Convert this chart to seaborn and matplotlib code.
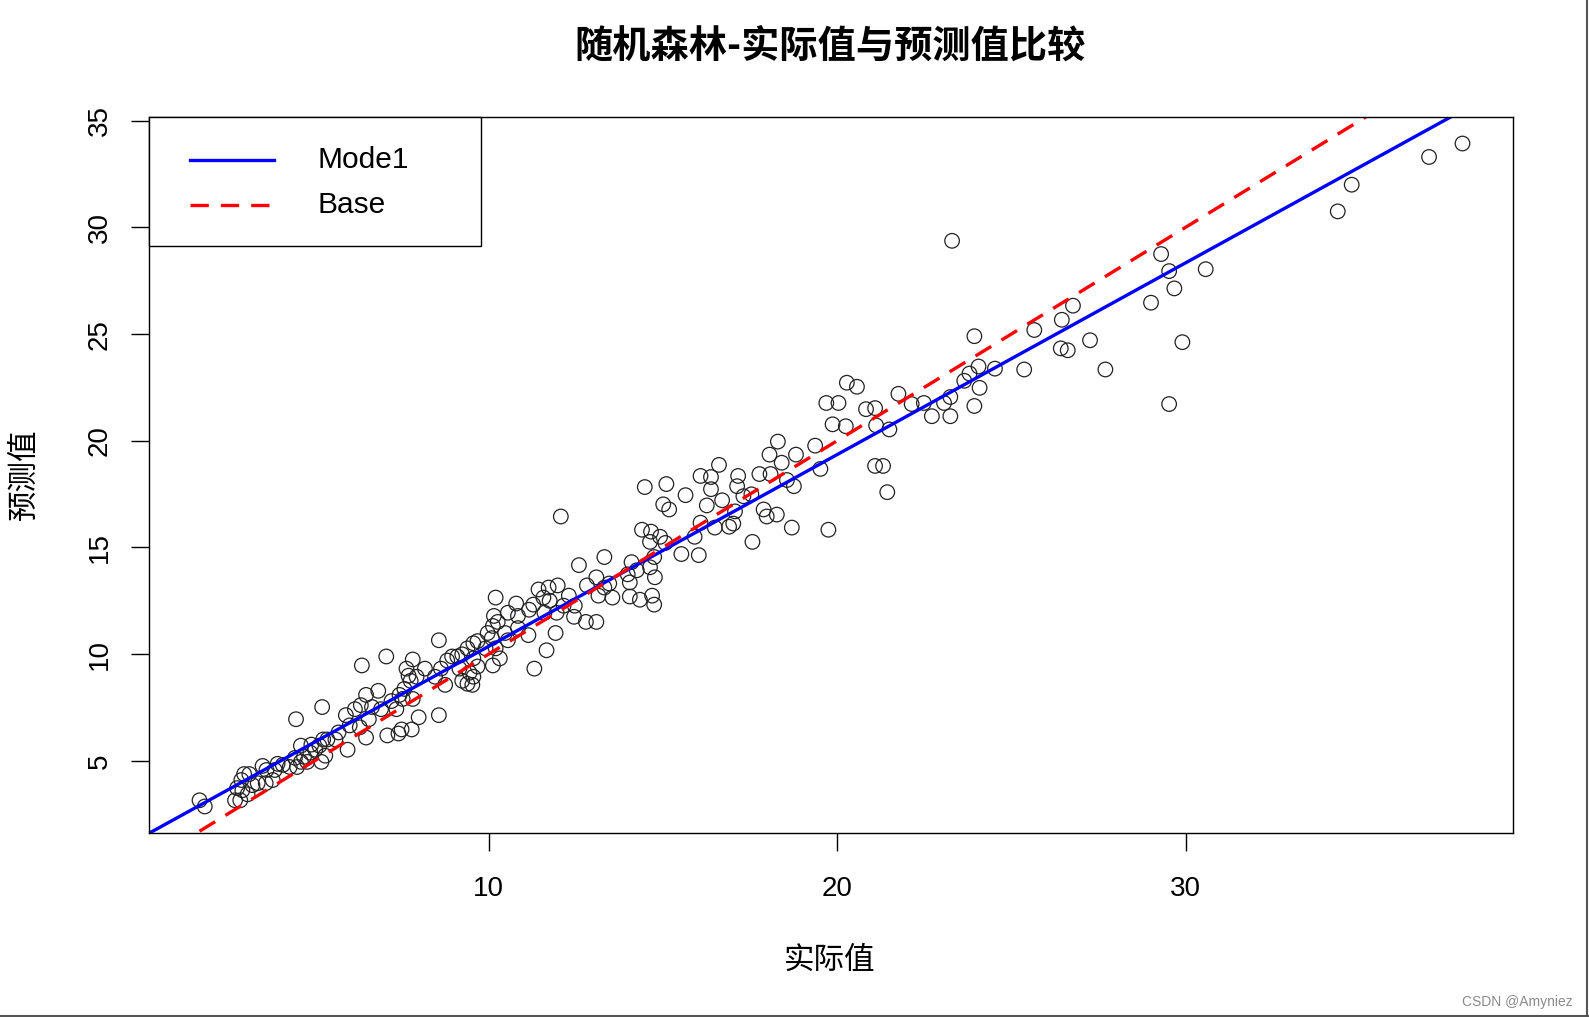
import seaborn as sns
import matplotlib.pyplot as plt
import numpy as np
import pandas as pd

# values (actual, predicted)
actual = [
    37.95, 36.99, 34.77, 34.37, 23.30, 29.30, 29.53, 29.68, 30.58, 29.01,
    29.91, 29.53, 26.77, 26.45, 25.66, 26.42, 26.62, 27.26, 27.70, 25.37,
    23.94, 24.53, 24.06, 23.80, 24.09, 23.94, 23.65, 23.25, 23.07, 23.25,
    22.72, 22.49, 22.14, 21.76, 21.09, 20.83, 21.12, 21.50, 20.28, 20.57,
    20.04, 19.69, 19.87, 20.25, 21.09, 21.32, 21.44, 19.75, 19.52, 19.37,
    18.82, 18.30, 18.76, 18.70, 18.27, 18.09, 18.06, 18.41, 18.56, 17.77,
    17.54, 17.89, 17.98, 17.57, 17.16, 17.13, 17.31, 16.61, 16.38, 16.08,
    16.38, 16.26, 16.70, 16.90, 17.02, 17.07, 16.08, 16.49, 15.91, 16.03,
    15.53, 15.65, 15.10, 15.01, 15.18, 14.92, 15.07, 14.48, 14.66, 14.40,
    14.63, 14.75, 14.63, 14.77, 14.69, 14.75, 14.10, 14.25, 13.99, 14.05,
    14.34, 14.05, 13.32, 13.09, 13.32, 13.46, 13.15, 13.55, 13.09, 12.79,
    12.59, 12.82, 12.07, 11.98, 12.30, 12.47, 12.15, 12.45, 11.95, 11.92,
    11.57, 11.43, 11.72, 11.75, 11.60, 11.66, 11.31, 11.28, 11.16, 11.14,
    10.84, 10.79, 10.84, 10.55, 10.47, 10.20, 10.15, 10.26, 10.12, 9.97,
    10.09, 9.68, 9.91, 10.20, 10.32, 10.12, 10.55, 9.56, 9.39, 9.24,
    9.10, 8.95, 8.81, 9.56, 9.68, 9.45, 9.56, 9.39, 9.53, 9.24,
    9.16, 8.57, 8.63, 8.46, 8.75, 8.57, 8.17, 7.93, 7.82, 7.64,
    7.70, 7.76, 7.58, 7.44, 7.53, 7.82, 7.99, 7.79, 7.35, 7.21,
    7.06, 7.50, 7.41, 7.09, 6.36, 6.83, 6.91, 6.65, 6.48, 6.33,
    6.16, 5.90, 6.01, 6.30, 6.48, 6.56, 5.95, 5.69, 5.60, 5.37,
    5.22, 5.25, 5.14, 5.02, 5.31, 5.20, 4.91, 4.88, 4.61, 4.70,
    4.79, 4.61, 4.47, 4.50, 4.29, 4.44, 4.09, 3.94, 3.86, 3.62,
    3.51, 3.80, 3.60, 3.37, 3.13, 2.98, 2.90, 2.78, 2.93, 2.87,
    2.72, 3.08, 3.22, 1.70, 1.85,
]
predicted = [
    33.93, 33.30, 32.00, 30.75, 29.37, 28.75, 27.95, 27.14, 28.04, 26.47,
    24.62, 21.72, 26.33, 25.67, 25.19, 24.33, 24.24, 24.71, 23.34, 23.34,
    24.90, 23.38, 23.48, 23.15, 22.48, 21.63, 22.81, 22.05, 21.77, 21.15,
    21.15, 21.77, 21.72, 22.20, 21.53, 21.48, 20.72, 20.53, 22.72, 22.53,
    21.77, 21.77, 20.77, 20.68, 18.82, 18.82, 17.59, 15.83, 18.68, 19.77,
    19.35, 19.96, 17.87, 15.93, 16.54, 18.44, 19.35, 18.97, 18.16, 18.44,
    17.49, 16.78, 16.45, 15.26, 18.35, 17.87, 17.40, 18.87, 18.30, 18.35,
    17.73, 16.97, 17.21, 15.97, 16.12, 16.69, 16.16, 15.93, 15.50, 14.64,
    14.69, 17.45, 17.97, 17.02, 16.78, 15.50, 15.21, 17.83, 15.74, 15.83,
    15.26, 14.55, 14.07, 13.60, 12.74, 12.32, 14.31, 13.93, 13.74, 13.36,
    12.55, 12.70, 14.55, 13.60, 13.12, 13.31, 12.74, 12.65, 11.51, 11.51,
    14.17, 13.22, 16.45, 13.22, 12.74, 12.27, 12.27, 11.75, 11.94, 10.99,
    12.65, 13.03, 13.12, 12.50, 11.94, 10.18, 9.32, 12.32, 12.08, 10.89,
    11.22, 12.37, 11.79, 11.94, 10.99, 12.65, 11.79, 11.51, 11.32, 10.99,
    10.75, 10.61, 10.27, 10.27, 9.80, 9.47, 10.65, 10.51, 10.27, 9.99,
    9.89, 9.89, 9.70, 9.80, 9.42, 9.13, 8.94, 8.61, 8.56, 8.75,
    9.32, 10.65, 9.32, 8.94, 8.56, 7.14, 9.32, 8.94, 9.75, 9.32,
    8.99, 8.75, 8.37, 8.09, 7.90, 7.90, 7.04, 6.47, 7.42, 7.80,
    9.89, 6.47, 6.28, 6.19, 9.47, 8.28, 7.42, 7.52, 8.09, 7.61,
    7.42, 7.14, 6.66, 6.57, 6.09, 6.95, 5.52, 6.33, 6.00, 6.00,
    7.52, 6.00, 5.71, 5.52, 5.24, 4.95, 5.76, 5.38, 5.71, 5.19,
    4.95, 4.95, 6.95, 4.71, 4.71, 5.14, 4.81, 4.86, 4.57, 4.57,
    4.76, 4.10, 3.95, 3.95, 4.38, 4.38, 4.10, 3.72, 3.62, 3.15,
    3.15, 3.43, 3.86, 3.15, 2.86,
]

# fitted line of the model
fit_intercept = 1.38
fit_slope = 0.8985

legend_labels = ['Mode1', 'Base']

df = pd.DataFrame({'actual': actual, 'predicted': predicted})

fig = plt.figure(figsize=(15.89, 10.17), dpi=100)
ax = fig.add_axes([149 / 1589, 1 - 833 / 1017, 1364 / 1589, 716 / 1017])

cjk = ['Noto Sans CJK SC', 'DejaVu Sans']
latin = ['Liberation Sans', 'DejaVu Sans']
base_dash = (5.5, 3.6)

sns.scatterplot(data=df, x='actual', y='predicted', ax=ax, s=110,
                facecolor='none', edgecolor='#222222', linewidth=0.9, marker='o')

# R style axis limits: data range plus 4 %
xr = max(actual) - min(actual)
yr = max(predicted) - min(predicted)
ax.set_xlim(min(actual) - 0.04 * xr, max(actual) + 0.04 * xr)
ax.set_ylim(min(predicted) - 0.04 * yr, max(predicted) + 0.04 * yr)

ax.axline((0, fit_intercept), slope=fit_slope, color='#0000ff', lw=2.4)
base_x = [min(actual), max(actual)]
sns.lineplot(x=base_x, y=base_x, ax=ax, color='#ff0000', lw=2.4, dashes=False)
ax.get_lines()[-1].set_dashes(base_dash)
if ax.get_legend() is not None:
    ax.get_legend().remove()

ax.set_xticks([10, 20, 30])
ax.set_yticks([5, 10, 15, 20, 25, 30, 35])
ax.tick_params(axis='both', direction='out', length=13, width=1, labelsize=20,
               colors='black')
ax.tick_params(axis='x', pad=18)
ax.tick_params(axis='y', pad=13)
for lab in ax.get_xticklabels():
    lab.set_family(latin)
for lab in ax.get_yticklabels():
    lab.set_family(latin)
    lab.set_rotation(90)
    lab.set_va('center')
for sp in ax.spines.values():
    sp.set_linewidth(1)
    sp.set_color('black')

ax.set_xlabel('')
ax.set_ylabel('')
fig.text(830 / 1589, 1 - 960 / 1017, '实际值', family=cjk, fontsize=22,
         ha='center', va='center')
fig.text(24 / 1589, 1 - 474 / 1017, '预测值', family=cjk, fontsize=22,
         ha='center', va='center', rotation=90)
fig.text(830 / 1589, 1 - 46 / 1017, '随机森林-实际值与预测值比较', family=cjk,
         fontsize=27.5, fontweight='bold', ha='center', va='center')

# R style legend box in the top left corner
box = plt.Rectangle((0, 1 - 129 / 716), 332 / 1364, 129 / 716, transform=ax.transAxes,
                    facecolor='white', edgecolor='black', lw=1, zorder=5, clip_on=False)
ax.add_patch(box)
rows_y = [1 - 43 / 716, 1 - 88 / 716]
ax.plot([41 / 1364, 125 / 1364], [rows_y[0]] * 2, transform=ax.transAxes,
        color='#0000ff', lw=2.4, zorder=6, clip_on=False)
ax.plot([41 / 1364, 125 / 1364], [rows_y[1]] * 2, transform=ax.transAxes,
        color='#ff0000', lw=2.4, zorder=6, clip_on=False, dashes=base_dash)
for lab, yy in zip(legend_labels, rows_y):
    ax.text(168 / 1364, yy, lab, transform=ax.transAxes, fontsize=21.5,
            family=latin, ha='left', va='center', zorder=6)

fig.text(1573 / 1589, 1 - 1002 / 1017, 'CSDN @Amyniez', fontsize=10, color='#8a8a8a',
         ha='right', va='center', family=latin)
fig.add_artist(plt.Line2D([0, 1], [0.0012, 0.0012], color='#555555', lw=1.5))
fig.add_artist(plt.Line2D([0.9988, 0.9988], [0, 1], color='#555555', lw=1.5))

fig.savefig('out.png', dpi=100)
